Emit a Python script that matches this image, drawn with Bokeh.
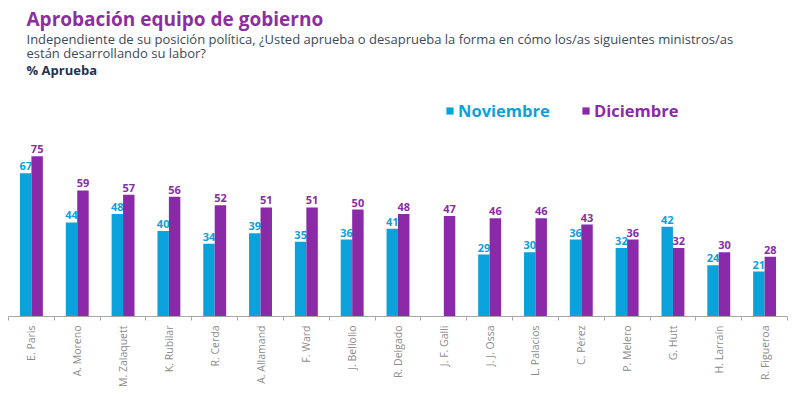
import math
from bokeh.plotting import figure
from bokeh.models import (Range1d, FixedTicker, ColumnDataSource, Title, Legend, LegendItem)
from bokeh.core.properties import value
from bokeh.transform import dodge
from bokeh.embed import file_html
from bokeh.resources import INLINE

names = ["E. Paris", "A. Moreno", "M. Zalaquett", "K. Rubilar", "R. Cerda", "A. Allamand",
         "F. Ward", "J. Bellolio", "R. Delgado", "J. F. Galli", "J. J. Ossa", "L. Palacios",
         "C. Pérez", "P. Melero", "G. Hutt", "H. Larraín", "R. Figueroa"]
noviembre = [67, 44, 48, 40, 34, 39, 35, 36, 41, None, 29, 30, 36, 32, 42, 24, 21]
diciembre = [75, 59, 57, 56, 52, 51, 51, 50, 48, 47, 46, 46, 43, 36, 32, 30, 28]

BLUE = "#0ba2dc"
PURPLE = "#8b2aa8"
FONT = "Open Sans"

idx = list(range(len(names)))
src = ColumnDataSource(dict(
    x=idx,
    nov=[float("nan") if v is None else v for v in noviembre],
    dic=diciembre,
    nov_lbl=["" if v is None else str(v) for v in noviembre],
    dic_lbl=[str(v) for v in diciembre],
))

p = figure(width=790, height=390, output_backend="svg", toolbar_location=None,
           x_range=Range1d(-0.5, len(names) - 0.5), y_range=Range1d(0, 110.4),
           min_border_left=8, min_border_right=3, min_border_bottom=74, min_border_top=0)

r_nov = p.vbar(x=dodge("x", -0.125, range=p.x_range), top="nov", width=0.25, source=src,
               fill_color=BLUE, line_color=None)
r_dic = p.vbar(x=dodge("x", 0.125, range=p.x_range), top="dic", width=0.25, source=src,
               fill_color=PURPLE, line_color=None)

p.text(x=dodge("x", -0.125, range=p.x_range), y="nov", text="nov_lbl", source=src,
       text_align="center", text_baseline="bottom", y_offset=-3,
       text_font=value(FONT), text_font_size="11px", text_font_style="bold", text_color=BLUE)
p.text(x=dodge("x", 0.125, range=p.x_range), y="dic", text="dic_lbl", source=src,
       text_align="center", text_baseline="bottom", y_offset=-3,
       text_font=value(FONT), text_font_size="11px", text_font_style="bold", text_color=PURPLE)

ax = p.xaxis[0]
ax.ticker = FixedTicker(ticks=idx, minor_ticks=[i - 0.5 for i in range(len(names) + 1)])
ax.major_label_overrides = {i: n for i, n in enumerate(names)}
ax.major_label_orientation = math.pi / 2
ax.major_tick_line_color = None
ax.major_tick_out = 0
ax.major_tick_in = 0
ax.minor_tick_in = 0
ax.minor_tick_out = 4
ax.minor_tick_line_color = "#a8a8a8"
ax.axis_line_color = "#a8a8a8"
ax.major_label_text_font = FONT
ax.major_label_text_font_size = "10.5px"
ax.major_label_text_color = "#8c8c8c"
ax.major_label_standoff = 5
p.yaxis.visible = False
p.xgrid.visible = False
p.ygrid.visible = False
p.outline_line_color = None

# titles (later added = further from the plot)
p.add_layout(Title(text="% Aprueba", text_font=FONT, text_font_size="13px",
                   text_font_style="bold", text_color="#1f3250", offset=18, standoff=4), "above")
p.add_layout(Title(text="están desarrollando su labor?", text_font=FONT, text_font_size="13px",
                   text_font_style="normal", text_color="#3c4a5a", offset=18, standoff=-11), "above")
p.add_layout(Title(text="Independiente de su posición política, ¿Usted aprueba o desaprueba la forma en cómo los/as siguientes ministros/as",
                   text_font=FONT, text_font_size="13px", text_font_style="normal",
                   text_color="#3c4a5a", offset=18, standoff=-1), "above")
p.add_layout(Title(text="Aprobación equipo de gobierno", text_font=FONT, text_font_size="19px",
                   text_font_style="bold", text_color="#8b2fa0", offset=18, standoff=-6), "above")
p.add_layout(Title(text=" ", text_font=FONT, text_font_size="3px", standoff=0), "above")

for r, lbl, col, x in [(r_nov, "Noviembre", BLUE, 437), (r_dic, "Diciembre", PURPLE, 573)]:
    lg = Legend(items=[LegendItem(label=lbl, renderers=[r])], location=(x, 194),
                orientation="horizontal", glyph_width=9, glyph_height=9,
                label_text_font=FONT, label_text_font_size="16.5px", label_text_font_style="bold",
                label_text_color=col, label_standoff=4, padding=0, margin=0, spacing=0,
                border_line_color=None, background_fill_alpha=0)
    p.add_layout(lg)

open("out.html", "w").write(file_html(p, INLINE))
